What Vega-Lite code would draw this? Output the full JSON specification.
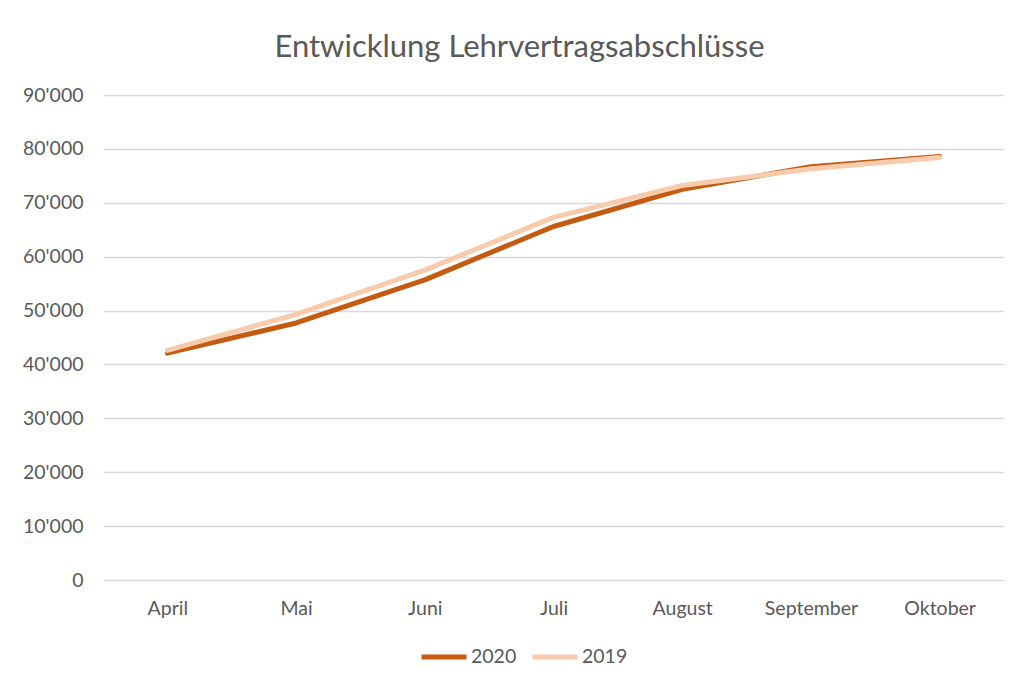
{
  "$schema": "https://vega.github.io/schema/vega-lite/v6.json",
  "width": 901,
  "height": 485,
  "padding": {"left": 22, "top": 32, "right": 10, "bottom": 10},
  "background": "white",
  "title": {
    "text": "Entwicklung Lehrvertragsabschlüsse",
    "font": "Lato",
    "fontSize": 31,
    "fontWeight": "normal",
    "color": "#595959",
    "anchor": "middle",
    "offset": 21,
    "dx": -34
  },
  "data": {
    "values": [
      {"Monat": "April", "Jahr": "2020", "Anzahl": 42100},
      {"Monat": "Mai", "Jahr": "2020", "Anzahl": 47700},
      {"Monat": "Juni", "Jahr": "2020", "Anzahl": 55700},
      {"Monat": "Juli", "Jahr": "2020", "Anzahl": 65600},
      {"Monat": "August", "Jahr": "2020", "Anzahl": 72500},
      {"Monat": "September", "Jahr": "2020", "Anzahl": 76700},
      {"Monat": "Oktober", "Jahr": "2020", "Anzahl": 78600},
      {"Monat": "April", "Jahr": "2019", "Anzahl": 42600},
      {"Monat": "Mai", "Jahr": "2019", "Anzahl": 49300},
      {"Monat": "Juni", "Jahr": "2019", "Anzahl": 57500},
      {"Monat": "Juli", "Jahr": "2019", "Anzahl": 67300},
      {"Monat": "August", "Jahr": "2019", "Anzahl": 73200},
      {"Monat": "September", "Jahr": "2019", "Anzahl": 76300},
      {"Monat": "Oktober", "Jahr": "2019", "Anzahl": 78400}
    ]
  },
  "mark": {"type": "line", "strokeWidth": 5, "strokeCap": "round", "strokeJoin": "round"},
  "encoding": {
    "x": {
      "field": "Monat",
      "type": "nominal",
      "sort": ["April", "Mai", "Juni", "Juli", "August", "September", "Oktober"],
      "scale": {"paddingInner": 0, "paddingOuter": 0.5},
      "axis": {
        "title": null,
        "labelAngle": 0,
        "domain": false,
        "ticks": false,
        "labelPadding": 19,
        "labelFont": "Lato",
        "labelFontSize": 19.5,
        "labelColor": "#595959"
      }
    },
    "y": {
      "field": "Anzahl",
      "type": "quantitative",
      "scale": {"domain": [0, 90000], "nice": false},
      "axis": {
        "title": null,
        "values": [0, 10000, 20000, 30000, 40000, 50000, 60000, 70000, 80000, 90000],
        "labelExpr": "replace(format(datum.value, ','), ',', \"'\")",
        "domain": false,
        "ticks": false,
        "labelPadding": 20,
        "minExtent": 80,
        "maxExtent": 80,
        "labelFont": "Lato",
        "labelFontSize": 19.5,
        "labelColor": "#595959",
        "gridColor": "#d9d9d9",
        "gridWidth": 1.3
      }
    },
    "color": {
      "field": "Jahr",
      "type": "nominal",
      "sort": ["2020", "2019"],
      "scale": {"domain": ["2020", "2019"], "range": ["#C55A11", "#F8CBAD"]},
      "legend": {
        "title": null,
        "orient": "none",
        "legendX": 316,
        "legendY": 537,
        "direction": "horizontal",
        "symbolType": "stroke",
        "symbolSize": 2025,
        "symbolStrokeWidth": 5,
        "labelFont": "Lato",
        "labelFontSize": 19.5,
        "labelColor": "#595959",
        "labelOffset": 2,
        "columnPadding": 5
      }
    }
  },
  "config": {
    "view": {"stroke": null}
  }
}
